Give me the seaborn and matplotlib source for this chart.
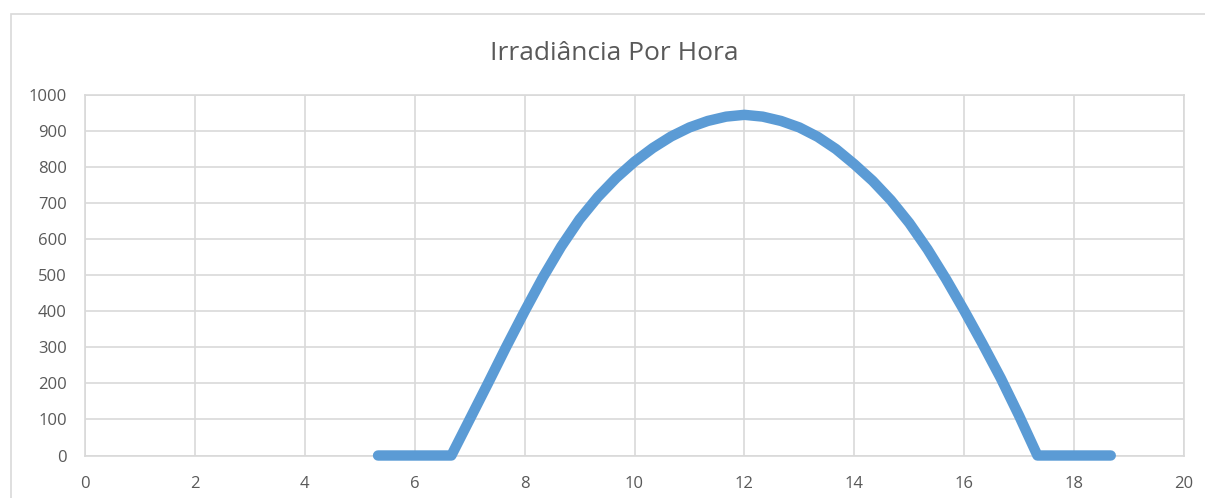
import matplotlib
matplotlib.use("Agg")
import matplotlib.pyplot as plt
from matplotlib.patches import Rectangle
import seaborn as sns
import pandas as pd

# Hour of day (20-minute steps) and solar irradiance (W/m²)
hours = [
    5.333, 5.667, 6.0, 6.333, 6.667, 7.0, 7.333, 7.667, 8.0, 8.333, 8.667,
    9.0, 9.333, 9.667, 10.0, 10.333, 10.667, 11.0, 11.333, 11.667, 12.0,
    12.333, 12.667, 13.0, 13.333, 13.667, 14.0, 14.333, 14.667, 15.0, 15.333,
    15.667, 16.0, 16.333, 16.667, 17.0, 17.333, 17.667, 18.0, 18.333, 18.667,
]
irradiance = [
    0, 0, 0, 0, 0, 100, 200, 302, 400, 494, 580,
    655, 717, 770, 815, 853, 885, 910, 928, 940, 945,
    940, 928, 910, 884, 850, 808, 762, 708, 645, 572,
    490, 402, 310, 214, 110, 0, 0, 0, 0, 0,
]

x_ticks = list(range(0, 21, 2))
y_ticks = list(range(0, 1001, 100))
title = "Irradiância Por Hora"

df = pd.DataFrame({"hora": hours, "irradiancia": irradiance})

sns.set_theme(style="white")
plt.rcParams["font.family"] = ["Open Sans", "DejaVu Sans"]

W, H = 1205, 498
fig = plt.figure(figsize=(W / 100, H / 100), dpi=100)
fig.patch.set_facecolor("white")

# Chart frame
fig.patches.append(Rectangle((11 / W, -0.2), 1.5, 1.2 - 14 / H,
                             transform=fig.transFigure, fill=False,
                             edgecolor="#D9D9D9", linewidth=1.2))

ax = fig.add_axes([85 / W, 1 - 455.5 / H, (1184 - 85) / W, (455.5 - 95) / H])
ax.set_facecolor("white")

grid_color = "#D9D9D9"
text_color = "#595959"

sns.lineplot(data=df, x="hora", y="irradiancia", ax=ax, color="#5B9BD5",
             linewidth=7.5, solid_capstyle="round", solid_joinstyle="round",
             zorder=3, clip_on=False)

ax.set_xlim(0, 20)
ax.set_ylim(0, 1000)
ax.set_xticks(x_ticks)
ax.set_yticks(y_ticks)
ax.set_xticklabels([str(t) for t in x_ticks])
ax.set_yticklabels([str(t) for t in y_ticks])
ax.grid(True, color=grid_color, linewidth=1.2)
ax.set_axisbelow(True)
for s in ax.spines.values():
    s.set_color(grid_color)
    s.set_linewidth(1.2)
ax.tick_params(axis="both", length=0, labelsize=12, labelcolor=text_color)
ax.tick_params(axis="y", pad=13)
ax.tick_params(axis="x", pad=15)
ax.set_xlabel("")
ax.set_ylabel("")

fig.text(614 / W, 1 - 53 / H, title, ha="center", va="center",
         fontsize=19, color=text_color)

fig.savefig("out.png", dpi=100)
